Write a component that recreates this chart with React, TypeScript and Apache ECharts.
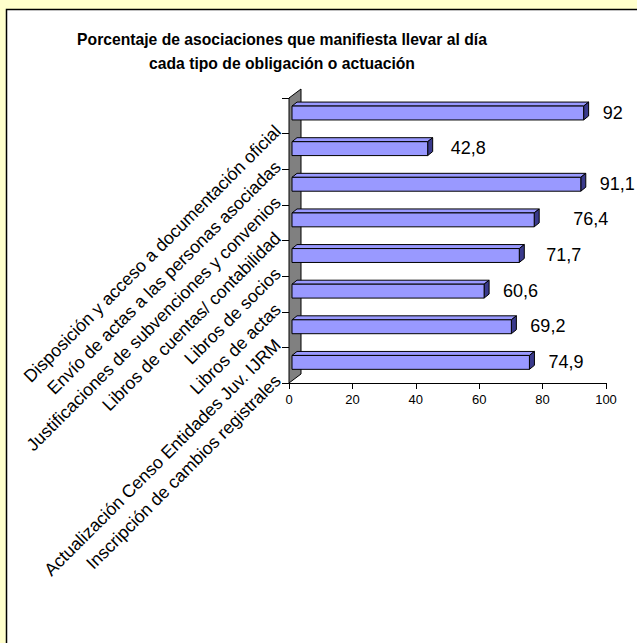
import React, { useEffect, useRef } from "react";
import * as echarts from "echarts";

// Categories, listed top to bottom as drawn
const categories = [
  "Disposición y acceso a documentación oficial",
  "Envío de actas a las personas asociadas",
  "Justificaciones de subvenciones y convenios",
  "Libros de cuentas/ contabilidad",
  "Libros de socios",
  "Libros de actas",
  "Actualización Censo Entidades Juv. IJRM",
  "Inscripción de cambios registrales",
];
const values = [92, 42.8, 91.1, 76.4, 71.7, 60.6, 69.2, 74.9];
const xTicks = { min: 0, max: 100, interval: 20 };
const titleLines = [
  "Porcentaje de asociaciones que manifiesta llevar al día",
  "cada tipo de obligación o actuación",
];
// small horizontal nudges of the value labels (px), as placed in the original
const labelNudge = [0, 4, 0, 20, 8, 0, 0, 0];

const FONT = '"Liberation Sans", Arial, Helvetica, sans-serif';

export default function App() {
  const ref = useRef<HTMLDivElement>(null);
  useEffect(() => {
    if (!ref.current) return;
    const chart = echarts.init(ref.current, null, { renderer: "svg" });
    const n = categories.length;
    const option: any = {
      animation: false,
      backgroundColor: "#FFFFCC",
      textStyle: { fontFamily: FONT },
      graphic: [
        {
          type: "rect",
          z: -10,
          shape: { x: 6.5, y: 9.5, width: 700, height: 700 },
          style: { fill: "#FFFFFF", stroke: "#000000", lineWidth: 1.5 },
        },
        {
          type: "text",
          x: 282,
          y: 39,
          style: {
            text: titleLines[0],
            fill: "#000",
            font: `bold 15.7px ${FONT}`,
            textAlign: "center",
            textVerticalAlign: "middle",
          },
        },
        {
          type: "text",
          x: 282,
          y: 63,
          style: {
            text: titleLines[1],
            fill: "#000",
            font: `bold 15.7px ${FONT}`,
            textAlign: "center",
            textVerticalAlign: "middle",
          },
        },
      ],
      grid: { left: 289, top: 98, right: 31, bottom: 260, containLabel: false },
      xAxis: {
        type: "value",
        min: xTicks.min,
        max: xTicks.max,
        interval: xTicks.interval,
        axisLine: { show: true, lineStyle: { color: "#000", width: 1 } },
        axisTick: { show: true, length: 6, lineStyle: { color: "#000" } },
        splitLine: { show: false },
        axisLabel: { color: "#000", fontSize: 13, fontFamily: FONT, margin: 10 },
      },
      yAxis: [
        {
          type: "category",
          data: categories,
          inverse: true,
          show: false,
        },
        {
          type: "value",
          position: "left",
          min: 0,
          max: n,
          interval: 1,
          axisLine: { show: true, lineStyle: { color: "#000", width: 1 } },
          axisTick: { show: true, length: 7, lineStyle: { color: "#000" } },
          splitLine: { show: false },
          axisLabel: {
            rotate: 45,
            color: "#000",
            fontSize: 17.7,
            lineHeight: 15,
            fontFamily: FONT,
            margin: 6,
            align: "right",
            verticalAlign: "bottom",
            formatter: (v: number) => {
              const idx = n - 1 - Math.round(v);
              return idx >= 0 && idx < n ? categories[idx] : "";
            },
          },
        },
      ],
      series: [
        {
          type: "custom",
          z: 1,
          xAxisIndex: 0,
          yAxisIndex: 0,
          data: [[0, 0]],
          silent: true,
          renderItem: (params: any, api: any) => {
            const band = api.size([0, 1])[1];
            const pTop = api.coord([0, 0]);
            const pBot = api.coord([0, n - 1]);
            const x0 = pTop[0];
            const top = pTop[1] - band / 2;
            const bot = pBot[1] + band / 2;
            return {
              type: "polygon",
              shape: {
                points: [
                  [x0, top],
                  [x0, bot],
                  [x0 + 12, bot - 9],
                  [x0 + 12, top - 9],
                ],
              },
              style: { fill: "#808080", stroke: "#000", lineWidth: 1 },
            };
          },
        },
        {
          type: "custom",
          z: 3,
          xAxisIndex: 0,
          yAxisIndex: 0,
          data: values.map((v, i) => [v, i]),
          encode: { x: 0, y: 1 },
          renderItem: (params: any, api: any) => {
            const v = api.value(0);
            const i = api.value(1);
            const p0 = api.coord([0, i]);
            const p1 = api.coord([v, i]);
            const band = api.size([0, 1])[1];
            const h = band * 0.39;
            const fx = 3;
            const fy = -2.8;
            const dx = 5;
            const dy = -4;
            const yc = p0[1] + fy;
            const top = yc - h / 2;
            const bot = yc + h / 2;
            const xa = p0[0] + fx;
            const xb = p1[0] + fx;
            return {
              type: "group",
              children: [
                {
                  type: "polygon",
                  shape: {
                    points: [
                      [xa, top],
                      [xb, top],
                      [xb + dx, top + dy],
                      [xa + dx, top + dy],
                    ],
                  },
                  style: { fill: "#9999FF", stroke: "#000", lineWidth: 1 },
                },
                {
                  type: "polygon",
                  shape: {
                    points: [
                      [xb, top],
                      [xb, bot],
                      [xb + dx, bot + dy],
                      [xb + dx, top + dy],
                    ],
                  },
                  style: { fill: "#3A3A8C", stroke: "#000", lineWidth: 1 },
                },
                {
                  type: "rect",
                  shape: { x: xa, y: top, width: xb - xa, height: h },
                  style: { fill: "#9999FF", stroke: "#000", lineWidth: 1 },
                },
                {
                  type: "text",
                  x: p1[0] + 22 + (labelNudge[params.dataIndex] || 0),
                  y: yc - 0.5,
                  style: {
                    text: String(values[params.dataIndex]).replace(".", ","),
                    fill: "#000",
                    fontSize: 18,
                    fontFamily: FONT,
                    align: "left",
                    verticalAlign: "middle",
                  },
                },
              ],
            };
          },
        },
      ],
    };
    chart.setOption(option);
    return () => chart.dispose();
  }, []);
  return (
    <div
      ref={ref}
      style={{ position: "fixed", left: 0, top: 0, width: 637, height: 643 }}
    />
  );
}
